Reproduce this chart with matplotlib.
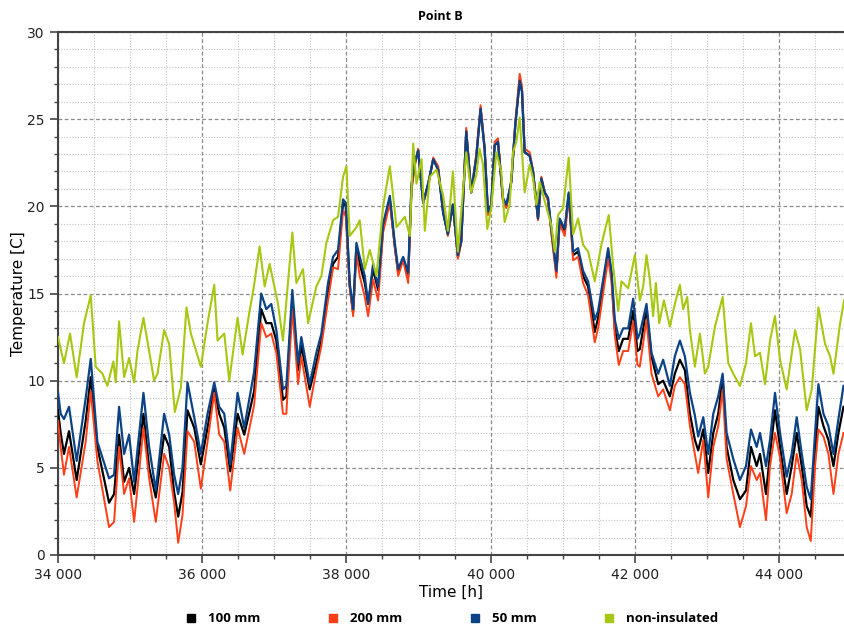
import numpy as np
import matplotlib
matplotlib.use("Agg")
import matplotlib.pyplot as plt
from matplotlib.ticker import MultipleLocator, FuncFormatter

# non-insulated beam, point B
t_green = [34000, 34083, 34167, 34259, 34361, 34454, 34523, 34616, 34685, 34768,
           34801, 34847, 34917, 34986, 35056, 35102, 35185, 35264, 35333, 35380,
           35472, 35542, 35620, 35704, 35782, 35843, 35981, 36074, 36167, 36213,
           36306, 36375, 36491, 36560, 36653, 36713, 36796, 36866, 36935, 37051,
           37120, 37250, 37306, 37398, 37468, 37583, 37653, 37722, 37815, 37884,
           37954, 38000, 38046, 38139, 38185, 38255, 38324, 38417, 38509, 38602,
           38648, 38694, 38810, 38880, 38926, 38972, 39042, 39088, 39157, 39250,
           39343, 39407, 39477, 39546, 39616, 39662, 39731, 39801, 39847, 39894,
           39954, 40009, 40079, 40148, 40194, 40264, 40310, 40357, 40403, 40472,
           40542, 40588, 40634, 40681, 40750, 40843, 40889, 40935, 41005, 41083,
           41144, 41213, 41282, 41352, 41444, 41537, 41583, 41639, 41699, 41769,
           41815, 41908, 42000, 42069, 42116, 42162, 42208, 42254, 42292, 42338,
           42403, 42486, 42555, 42625, 42671, 42727, 42764, 42833, 42903, 42972,
           43018, 43111, 43218, 43296, 43366, 43458, 43542, 43611, 43667, 43736,
           43806, 43875, 43944, 44014, 44106, 44222, 44292, 44384, 44454, 44546,
           44639, 44708, 44755, 44847, 44903]
green = [12.5, 11.0, 12.7, 10.2, 13.3, 14.9, 10.8, 10.4, 9.7, 11.1,
         9.9, 13.4, 10.2, 11.3, 9.9, 11.7, 13.6, 11.7, 10.0, 10.4,
         12.9, 12.1, 8.2, 9.6, 14.2, 12.7, 10.8, 13.3, 15.5, 12.3,
         12.7, 10.0, 13.6, 11.5, 13.9, 15.3, 17.7, 15.4, 16.7, 14.4,
         12.3, 18.5, 15.6, 16.4, 13.3, 15.4, 16.0, 17.9, 19.2, 19.4,
         21.7, 22.3, 18.3, 18.8, 19.2, 16.4, 17.5, 16.0, 20.0, 22.3,
         20.6, 18.8, 19.4, 18.3, 23.6, 21.3, 22.7, 18.6, 21.7, 22.1,
         20.6, 18.6, 22.0, 17.4, 20.8, 23.1, 20.8, 21.8, 23.3, 22.4,
         18.7, 19.9, 23.1, 22.0, 19.1, 20.1, 23.1, 23.7, 25.1, 20.8,
         22.4, 21.6, 20.1, 21.4, 20.3, 18.9, 17.4, 19.5, 19.9, 22.8,
         18.4, 19.3, 17.8, 17.4, 15.7, 17.8, 18.6, 19.5, 16.6, 14.0,
         15.7, 15.3, 17.2, 14.6, 15.4, 17.2, 15.8, 13.7, 15.6, 13.3,
         14.6, 13.1, 14.4, 15.5, 14.1, 14.8, 12.9, 10.8, 12.7, 10.4,
         10.8, 13.1, 14.8, 11.0, 10.4, 9.7, 11.0, 13.3, 11.4, 11.6,
         9.8, 12.3, 13.7, 11.2, 9.5, 12.9, 11.8, 8.3, 9.5, 14.2,
         12.1, 11.4, 10.4, 13.3, 14.6]

# insulated beams, same time stamps for all three thicknesses
t_ins = [34000, 34037, 34083, 34153, 34259, 34384, 34454, 34546, 34708, 34778,
         34847, 34917, 34986, 35056, 35185, 35264, 35356, 35472, 35542, 35611,
         35667, 35727, 35796, 35889, 35981, 36074, 36167, 36236, 36306, 36389,
         36491, 36583, 36720, 36819, 36889, 36958, 37028, 37120, 37167, 37250,
         37329, 37375, 37491, 37583, 37653, 37745, 37815, 37884, 37954, 37991,
         38046, 38093, 38139, 38185, 38255, 38301, 38370, 38440, 38509, 38602,
         38671, 38718, 38787, 38857, 38903, 38949, 38995, 39065, 39134, 39204,
         39273, 39343, 39407, 39477, 39546, 39593, 39662, 39731, 39801, 39861,
         39917, 39963, 40009, 40056, 40102, 40171, 40218, 40287, 40343, 40403,
         40435, 40472, 40542, 40588, 40657, 40704, 40750, 40796, 40843, 40912,
         40958, 41028, 41083, 41144, 41213, 41282, 41352, 41444, 41491, 41560,
         41630, 41676, 41722, 41778, 41838, 41908, 41977, 42037, 42069, 42162,
         42231, 42324, 42393, 42486, 42555, 42625, 42694, 42764, 42833, 42879,
         42949, 43018, 43088, 43157, 43218, 43273, 43366, 43458, 43542, 43611,
         43690, 43736, 43819, 43875, 43944, 44014, 44106, 44176, 44245, 44315,
         44384, 44440, 44500, 44546, 44616, 44685, 44755, 44824, 44894]
ins_50 = [9.3, 8.1, 7.8, 8.5, 5.4, 9.0, 11.25, 6.5, 4.4, 4.6,
          8.5, 5.8, 6.9, 4.2, 9.3, 6.2, 3.7, 8.1, 6.9, 4.6,
          3.5, 5.0, 9.9, 7.9, 5.8, 8.1, 9.9, 8.5, 8.1, 5.2,
          9.3, 7.3, 10.5, 15.0, 14.1, 14.4, 12.9, 9.5, 9.7, 15.2,
          11.0, 12.5, 9.8, 11.6, 12.7, 15.6, 17.1, 17.5, 20.4, 20.2,
          15.6, 14.1, 17.9, 17.1, 16.0, 14.4, 16.7, 15.4, 19.0, 20.6,
          17.9, 16.4, 17.1, 16.2, 21.3, 22.5, 23.2, 20.2, 21.3, 22.7,
          22.1, 19.6, 18.4, 20.1, 17.2, 18.0, 24.3, 20.8, 22.8, 25.6,
          23.3, 19.7, 20.1, 23.5, 23.7, 20.5, 20.1, 21.4, 24.7, 27.2,
          26.6, 23.1, 22.9, 22.0, 19.3, 21.6, 20.8, 20.5, 18.7, 16.3,
          19.3, 18.7, 20.8, 17.4, 17.6, 16.3, 15.7, 13.5, 14.0, 15.8,
          17.6, 16.3, 13.5, 12.4, 13.0, 13.0, 14.7, 12.4, 12.7, 14.4,
          11.6, 10.4, 11.2, 9.7, 11.4, 12.3, 11.4, 9.3, 8.0, 6.8,
          7.9, 5.8, 8.1, 9.1, 10.4, 7.0, 5.5, 4.3, 5.1, 7.2,
          6.2, 7.0, 5.1, 6.6, 9.3, 7.0, 4.5, 5.8, 7.9, 5.8,
          3.9, 3.2, 7.0, 9.8, 8.1, 7.4, 5.8, 7.8, 9.7]
ins_100 = [8.3, 7.0, 5.8, 7.1, 4.3, 7.7, 10.2, 6.2, 3.0, 3.5,
           6.9, 4.2, 5.0, 3.5, 8.1, 5.0, 3.3, 6.9, 6.2, 3.6,
           2.2, 3.6, 8.3, 7.3, 5.2, 7.3, 9.6, 8.1, 7.3, 4.8,
           8.1, 6.9, 9.4, 14.1, 13.3, 13.3, 12.3, 8.9, 9.1, 14.8,
           10.6, 12.0, 9.5, 11.0, 12.3, 15.0, 16.7, 17.1, 20.2, 20.0,
           15.4, 13.9, 17.7, 16.7, 15.6, 14.4, 16.4, 15.2, 18.8, 20.4,
           17.7, 16.2, 17.0, 16.0, 21.1, 22.5, 23.2, 20.2, 21.3, 22.7,
           22.1, 19.6, 18.4, 20.1, 17.1, 18.0, 24.3, 20.8, 22.8, 25.6,
           23.3, 19.6, 20.1, 23.5, 23.7, 20.4, 20.0, 21.4, 24.7, 27.2,
           26.6, 23.1, 22.9, 22.0, 19.3, 21.6, 20.8, 20.4, 18.6, 16.2,
           19.2, 18.6, 20.7, 17.2, 17.4, 16.0, 15.4, 12.8, 13.6, 15.5,
           17.4, 16.1, 13.0, 11.7, 12.4, 12.4, 14.0, 11.7, 11.8, 14.1,
           11.4, 9.8, 10.0, 9.1, 10.4, 11.2, 10.6, 8.1, 6.6, 6.0,
           7.2, 4.7, 7.0, 8.1, 10.2, 6.2, 4.3, 3.2, 3.7, 6.2,
           5.1, 5.8, 3.5, 5.8, 8.3, 6.2, 3.5, 5.1, 7.0, 5.1,
           2.8, 2.2, 5.8, 8.5, 7.4, 6.6, 5.1, 7.0, 8.5]
ins_200 = [7.7, 6.2, 4.6, 6.2, 3.3, 6.5, 9.4, 5.4, 1.6, 1.9,
           6.2, 3.5, 4.4, 1.9, 7.3, 4.4, 1.9, 5.8, 5.0, 3.0,
           0.7, 2.3, 7.1, 6.5, 3.8, 6.5, 9.3, 6.9, 6.5, 3.7,
           7.3, 5.8, 8.6, 13.3, 12.5, 12.7, 11.6, 8.1, 8.1, 14.1,
           9.8, 11.4, 8.5, 10.6, 12.0, 14.6, 16.5, 16.4, 19.8, 19.4,
           15.4, 13.7, 17.3, 16.0, 14.8, 13.7, 15.8, 14.6, 18.5, 20.2,
           17.7, 16.0, 16.9, 15.6, 20.9, 22.3, 23.3, 20.2, 21.1, 22.8,
           22.3, 19.8, 18.3, 20.1, 17.0, 17.9, 24.5, 20.8, 23.0, 25.8,
           23.4, 19.5, 20.0, 23.7, 23.9, 20.3, 19.9, 21.5, 24.9, 27.6,
           26.9, 23.3, 23.1, 22.1, 19.2, 21.7, 20.8, 20.3, 18.4, 15.9,
           19.0, 18.3, 20.5, 16.9, 17.1, 15.6, 14.9, 12.2, 13.0, 15.0,
           17.0, 15.7, 12.6, 10.9, 11.7, 11.7, 13.4, 10.9, 10.8, 13.5,
           10.4, 9.1, 9.5, 8.3, 9.7, 10.2, 9.8, 7.4, 5.8, 4.7,
           6.6, 3.3, 6.2, 7.4, 9.5, 5.5, 3.5, 1.6, 2.8, 5.1,
           4.3, 4.7, 2.0, 5.1, 7.0, 5.6, 2.4, 3.5, 5.8, 4.3,
           1.6, 0.8, 5.1, 7.2, 6.8, 5.8, 3.5, 5.8, 7.0]

c_100 = "#000000"
c_200 = "#ff3f17"
c_50 = "#0b4386"
c_non = "#a6c812"

fig = plt.figure(figsize=(8.45, 6.32), dpi=100)
ax = fig.add_axes([58 / 845, 77 / 632, 787 / 845, 523 / 632])

ax.plot(t_ins, ins_100, color=c_100, lw=1.6, zorder=3)
ax.plot(t_ins, ins_200, color=c_200, lw=1.4, zorder=3)
ax.plot(t_ins, ins_50, color=c_50, lw=1.6, zorder=4)
ax.plot(t_green, green, color=c_non, lw=1.5, zorder=5)

ax.set_xlim(34000, 44915)
ax.set_ylim(0, 30)

ax.xaxis.set_major_locator(MultipleLocator(2000))
ax.xaxis.set_minor_locator(MultipleLocator(500))
ax.yaxis.set_major_locator(MultipleLocator(5))
ax.yaxis.set_minor_locator(MultipleLocator(1))
ax.xaxis.set_major_formatter(FuncFormatter(lambda v, p: f"{int(v):,}".replace(",", " ")))

ax.grid(which="minor", color="#c4c4c4", lw=0.8, ls=(0, (1, 1.5)), zorder=0)
ax.grid(which="major", color="#8a8a8a", lw=0.9, ls=(0, (3, 2)), zorder=0)

ax.tick_params(which="major", direction="out", length=6, width=1.2,
               color="#444444", labelsize=10, labelcolor="#222222")
ax.tick_params(which="minor", direction="out", length=3, width=1.0, color="#444444")

for side in ["left", "bottom", "top"]:
    ax.spines[side].set_color("#444444")
    ax.spines[side].set_linewidth(1.5)
ax.spines["right"].set_visible(False)

ax.set_xlabel("Time [h]", fontsize=11, labelpad=2)
ax.set_ylabel("Temperature [C]", fontsize=11, labelpad=1)

fig.text(440 / 845, 1 - 17 / 632, "Point B", ha="center", va="center",
         fontsize=9, fontweight="bold", family="Open Sans")

handles = [plt.Line2D([], [], ls="none", marker="s", ms=6, color=c)
           for c in [c_100, c_200, c_50, c_non]]
fig.legend(handles, ["100 mm", "200 mm", "50 mm", "non-insulated"],
           loc="center", bbox_to_anchor=(452 / 845, 1 - 619 / 632), ncol=4,
           frameon=False, handlelength=0.8, handletextpad=0.9, columnspacing=5.1,
           prop={"family": "Open Sans", "weight": "bold", "size": 9.5})

fig.savefig("out.png", dpi=100)
